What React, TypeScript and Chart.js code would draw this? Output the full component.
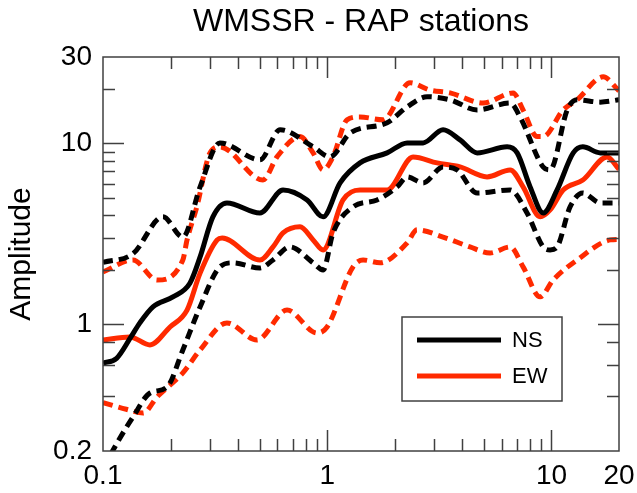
import React, { useEffect, useRef } from "react";
import { Chart, registerables } from "chart.js";

Chart.register(...registerables);

// ---- Data ----
const nsFreq = [0.1, 0.115, 0.133, 0.146, 0.167, 0.205, 0.244, 0.271, 0.309, 0.357, 0.501, 0.635, 0.813, 0.958, 1.141, 1.4, 1.849, 2.27, 2.675, 3.285, 3.91, 4.66, 6.34, 7.03, 8.03, 9.18, 10.59, 12.5, 13.8, 16.5, 20];
const nsAmp = [0.612, 0.65, 0.85, 1.02, 1.25, 1.42, 1.69, 2.36, 3.93, 4.69, 4.13, 5.53, 4.87, 3.93, 6.05, 7.8, 8.86, 10.06, 10.06, 11.9, 10.45, 8.86, 9.57, 8.86, 5.75, 4.13, 5.53, 8.86, 9.57, 8.86, 8.86];

const ewFreq = [0.1, 0.132, 0.162, 0.199, 0.237, 0.271, 0.323, 0.34, 0.501, 0.573, 0.635, 0.756, 0.865, 0.958, 1.176, 1.4, 1.849, 2.413, 3.09, 3.91, 5.16, 6.54, 7.47, 8.9, 9.86, 11.27, 13.8, 17.7, 20];
const ewAmp = [0.821, 0.853, 0.771, 0.968, 1.2, 1.92, 2.93, 3.0, 2.27, 2.68, 3.2, 3.46, 2.93, 2.58, 4.87, 5.53, 5.53, 8.42, 7.8, 7.41, 6.53, 7.14, 5.75, 3.93, 4.29, 5.53, 6.28, 8.42, 7.2];

const nsUpperFreq = [0.1, 0.136, 0.185, 0.227, 0.271, 0.332, 0.501, 0.616, 0.865, 1.029, 1.264, 1.849, 2.27, 2.787, 3.53, 4.66, 6.54, 7.24, 9.18, 9.86, 11.75, 13.0, 16.5, 20];
const nsUpperAmp = [2.2, 2.46, 3.93, 3.04, 5.75, 10.06, 8.11, 11.9, 9.57, 8.42, 11.4, 13.0, 15.9, 18.1, 17.4, 15.3, 16.7, 14.0, 7.41, 7.14, 15.3, 17.4, 16.9, 17.4];

const nsLowerFreq = [0.1, 0.1154, 0.136, 0.162, 0.193, 0.227, 0.271, 0.332, 0.38, 0.501, 0.573, 0.682, 0.865, 0.958, 1.061, 1.303, 1.668, 2.049, 2.27, 2.675, 3.285, 3.79, 4.66, 6.54, 7.78, 9.18, 9.86, 10.59, 12.1, 13.8, 16.5, 20];
const nsLowerAmp = [0.16, 0.221, 0.308, 0.418, 0.451, 0.723, 1.25, 2.08, 2.19, 2.05, 2.27, 2.68, 2.19, 2.0, 3.2, 4.46, 4.87, 5.75, 6.53, 6.05, 7.41, 7.14, 5.32, 5.53, 4.13, 2.68, 2.58, 2.68, 4.46, 5.32, 4.69, 4.69];

const ewUpperFreq = [0.1, 0.136, 0.174, 0.227, 0.237, 0.262, 0.3, 0.332, 0.517, 0.597, 0.756, 0.865, 0.958, 1.061, 1.225, 1.4, 1.774, 2.34, 2.873, 3.53, 4.95, 6.74, 7.47, 8.63, 9.18, 11.27, 13.0, 17.0, 20];
const ewUpperAmp = [1.95, 2.27, 1.76, 2.27, 2.93, 4.46, 8.86, 9.57, 6.28, 8.42, 10.9, 8.86, 7.14, 8.42, 13.5, 14.0, 13.5, 21.6, 19.7, 19.0, 16.7, 19.0, 15.3, 10.9, 10.9, 15.3, 17.4, 23.3, 19.5];

const ewLowerFreq = [0.1, 0.127, 0.151, 0.174, 0.227, 0.271, 0.357, 0.486, 0.662, 0.9, 0.998, 1.303, 1.445, 1.72, 2.27, 2.514, 3.285, 4.33, 5.32, 6.54, 7.47, 8.9, 10.17, 13.0, 18.3, 20];
const ewLowerAmp = [0.37, 0.34, 0.324, 0.397, 0.54, 0.723, 1.02, 0.821, 1.2, 0.897, 0.968, 2.08, 2.27, 2.19, 2.82, 3.33, 3.04, 2.68, 2.48, 2.68, 2.08, 1.42, 1.76, 2.27, 2.93, 2.95];

const xTickValues = [0.1, 1, 10, 20];
const xTickLabels = ["0.1", "1", "10", "20"];
const yTickValues = [0.2, 1, 10, 30];
const yTickLabels = ["0.2", "1", "10", "30"];
const xMajorMarks = [1, 10];
const xMinorMarks = [0.2, 0.3, 0.4, 0.5, 0.6, 0.7, 0.8, 0.9, 2, 3, 4, 5, 6, 7, 8, 9];
const yMajorMarks = [1, 10];
const yMinorMarks = [0.4, 0.6, 0.8, 2, 3, 4, 5, 6, 7, 8, 9, 20];

const legendLabels = ["NS", "EW"];
const titleText = "WMSSR - RAP stations";
const yTitle = "Amplitude";

const BLACK = "#000000";
const RED = "#ff2a00";
const FRAME = "#404040";
const FONT = "'Liberation Sans', Arial, sans-serif";

const pts = (xs: number[], ys: number[]) => xs.map((x, i) => ({ x, y: ys[i] }));

const framePlugin = {
  id: "frameTicksLegend",
  afterDatasetsDraw(chart: any) {
    const { ctx, chartArea } = chart;
    const { left, right, top, bottom } = chartArea;
    const xs = chart.scales.x;
    const ys = chart.scales.y;
    ctx.save();
    ctx.strokeStyle = FRAME;
    ctx.lineWidth = 1.5;
    ctx.strokeRect(left, top, right - left, bottom - top);
    const major = 21;
    const minor = 12;
    ctx.beginPath();
    const xm = (vals: number[], len: number) => {
      vals.forEach((v) => {
        const p = Math.round(xs.getPixelForValue(v)) + 0.5;
        ctx.moveTo(p, bottom);
        ctx.lineTo(p, bottom - len);
        ctx.moveTo(p, top);
        ctx.lineTo(p, top + len);
      });
    };
    const ym = (vals: number[], len: number) => {
      vals.forEach((v) => {
        const p = Math.round(ys.getPixelForValue(v)) + 0.5;
        ctx.moveTo(left, p);
        ctx.lineTo(left + len, p);
        ctx.moveTo(right, p);
        ctx.lineTo(right - len, p);
      });
    };
    xm(xMajorMarks, major);
    xm(xMinorMarks, minor);
    ym(yMajorMarks, major);
    ym(yMinorMarks, minor);
    ctx.stroke();

    // legend box
    const bw = 160;
    const bh = 84;
    const bx = right - 57 - bw;
    const by = bottom - 50 - bh;
    ctx.fillStyle = "#ffffff";
    ctx.fillRect(bx, by, bw, bh);
    ctx.strokeRect(bx, by, bw, bh);
    const colors = [BLACK, RED];
    legendLabels.forEach((lab, i) => {
      const yy = by + 23 + i * 36;
      ctx.beginPath();
      ctx.strokeStyle = colors[i];
      ctx.lineWidth = 5;
      ctx.moveTo(bx + 15, yy);
      ctx.lineTo(bx + 99, yy);
      ctx.stroke();
      ctx.fillStyle = "#000";
      ctx.font = `22px ${FONT}`;
      ctx.textBaseline = "middle";
      ctx.textAlign = "left";
      ctx.fillText(lab, bx + 110, yy + 1);
    });
    ctx.restore();
  },
};

export default function App() {
  const ref = useRef<HTMLCanvasElement | null>(null);
  useEffect(() => {
    if (!ref.current) return;
    const common = { pointRadius: 0, borderWidth: 5, fill: false, cubicInterpolationMode: "monotone" as const, clip: 0 };
    const dash = [10, 6];
    const chart = new Chart(ref.current, {
      type: "line",
      data: {
        datasets: [
          { label: "NS+", data: pts(nsUpperFreq, nsUpperAmp), borderColor: BLACK, borderDash: dash, ...common },
          { label: "NS-", data: pts(nsLowerFreq, nsLowerAmp), borderColor: BLACK, borderDash: dash, ...common },
          { label: "EW+", data: pts(ewUpperFreq, ewUpperAmp), borderColor: RED, borderDash: dash, ...common },
          { label: "EW-", data: pts(ewLowerFreq, ewLowerAmp), borderColor: RED, borderDash: dash, ...common },
          { label: "NS", data: pts(nsFreq, nsAmp), borderColor: BLACK, ...common },
          { label: "EW", data: pts(ewFreq, ewAmp), borderColor: RED, ...common },
        ],
      },
      options: {
        animation: false,
        responsive: false,
        devicePixelRatio: 1,
        layout: { padding: { left: 0, right: 18, top: 0, bottom: 0 } },
        plugins: {
          legend: { display: false },
          tooltip: { enabled: false },
          title: {
            display: true,
            text: titleText,
            fullSize: false,
            color: "#000",
            font: { family: FONT, size: 32, weight: "normal" },
            padding: { top: 3, bottom: 15.6 },
          },
        },
        scales: {
          x: {
            type: "logarithmic",
            min: 0.1,
            max: 20,
            grid: { display: false, drawTicks: false },
            border: { display: false },
            afterBuildTicks: (s: any) => {
              s.ticks = xTickValues.map((v) => ({ value: v }));
            },
            afterFit: (s: any) => {
              s.height = 42;
              s.paddingLeft = 0;
              s.paddingRight = 0;
            },
            ticks: {
              autoSkip: false,
              maxRotation: 0,
              padding: 8,
              color: "#000",
              font: { family: FONT, size: 28 },
              callback: (_v: any, i: number) => xTickLabels[i],
            },
          },
          y: {
            type: "logarithmic",
            min: 0.2,
            max: 30,
            grid: { display: false, drawTicks: false },
            border: { display: false },
            afterBuildTicks: (s: any) => {
              s.ticks = yTickValues.map((v) => ({ value: v }));
            },
            afterFit: (s: any) => {
              s.width = 103;
              s.paddingTop = 0;
              s.paddingBottom = 0;
            },
            title: {
              display: true,
              text: yTitle,
              color: "#000",
              font: { family: FONT, size: 30 },
              padding: { top: 4, bottom: 0 },
            },
            ticks: {
              autoSkip: false,
              padding: 11,
              color: "#000",
              font: { family: FONT, size: 28 },
              callback: (_v: any, i: number) => yTickLabels[i],
            },
          },
        },
      },
      plugins: [framePlugin],
    });
    return () => chart.destroy();
  }, []);
  return (
    <div style={{ position: "absolute", left: 0, top: 0, width: 637, height: 493, background: "#fff" }}>
      <canvas ref={ref} width={637} height={493} style={{ display: "block" }} />
    </div>
  );
}
